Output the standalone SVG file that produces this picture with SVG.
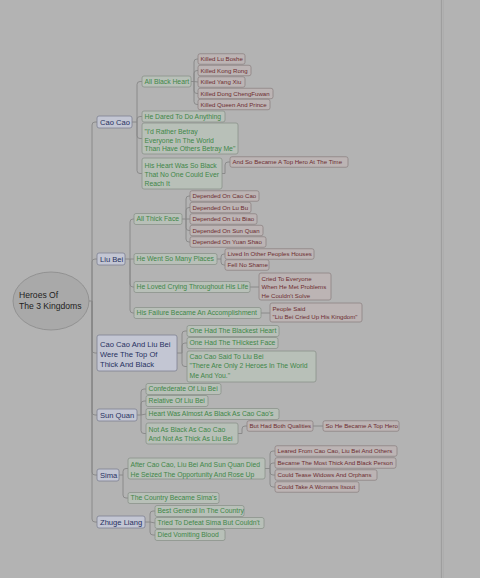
<svg xmlns="http://www.w3.org/2000/svg" width="480" height="578" viewBox="0 0 480 578">
<style>
text{font-family:"Liberation Sans",Arial,sans-serif}
.conn{fill:none;stroke:#878787;stroke-width:0.9}
.l1 rect{fill:#c3c6d3;stroke:#7d8193;stroke-width:0.8}
.l1 text{fill:#27315f;font-size:7.6px}
.l2 rect{fill:#b8c0b8;stroke:#8b938b;stroke-width:0.8}
.l2 text{fill:#3f8748;font-size:6.8px}
.l3 rect{fill:#bcb4b4;stroke:#8e8484;stroke-width:0.8}
.l3 text{fill:#6d2c30;font-size:6.1px}
</style>
<rect x="0" y="0" width="480" height="578" fill="#b3b3b3"/>
<line x1="441.5" y1="0" x2="441.5" y2="578" stroke="#9e9e9e" stroke-width="1.2"/>
<line x1="443.5" y1="0" x2="443.5" y2="578" stroke="#ababab" stroke-width="0.8"/>

<g id="connectors" class="conn">
<path d="M89 301 H92 V125 Q92 122 95 122 H97 M92 301 V262 Q92 259 95 259 H97 M92 301 V350 Q92 353 95 353 H97 M92 301 V412 Q92 415 95 415 H97 M92 301 V472 Q92 475 95 475 H97 M92 301 V519 Q92 522 95 522 H97"/>
<path d="M132 122 H137 V84.5 Q137 81.5 140 81.5 H142 M137 122 V119.5 Q137 116.5 140 116.5 H142 M137 122 V135.5 Q137 138.5 140 138.5 H142 M137 122 V170.5 Q137 173.5 140 173.5 H142"/>
<path d="M191 81.5 H194 V62 Q194 59 197 59 H198 M194 81.5 V73.5 Q194 70.5 197 70.5 H198 M194 81.5 L198 82 M194 81.5 V90.5 Q194 93.5 197 93.5 H198 M194 81.5 V101.5 Q194 104.5 197 104.5 H198"/>
<path d="M222 173.5 H225 V165 Q225 162 228 162 H230"/>
<path d="M125 259 H130 V222 Q130 219 133 219 H134 M130 259 H134 M130 259 V284 Q130 287 133 287 H134 M130 259 V310 Q130 313 133 313 H134"/>
<path d="M182 219 H186 V199 Q186 196 189 196 H190 M186 219 V210.5 Q186 207.5 189 207.5 H190 M186 219 H190 M186 219 V227.5 Q186 230.5 189 230.5 H190 M186 219 V239 Q186 242 189 242 H190"/>
<path d="M217 259 H221 V257 Q221 254 224 254 H225 M221 259 V262 Q221 265 224 265 H225"/>
<path d="M250 287 H259 M261 313 H270"/>
<path d="M177 353 H182 V334 Q182 331 185 331 H187 M182 353 V346 Q182 343 185 343 H187 M182 353 V363.5 Q182 366.5 185 366.5 H187"/>
<path d="M137 415 H141 V392 Q141 389 144 389 H146 M141 415 V404 Q141 401 144 401 H146 M141 415 L146 414 M141 415 V430.5 Q141 433.5 144 433.5 H146"/>
<path d="M238 433.5 H242 V429 Q242 426 245 426 H247 M313 426 H323"/>
<path d="M119 475 H123 V471.5 Q123 468.5 126 468.5 H128 M123 475 V495 Q123 498 126 498 H128"/>
<path d="M265 468.5 H270 V454 Q270 451 273 451 H275 M270 468.5 V466 Q270 463 273 463 H275 M270 468.5 V472 Q270 475 273 475 H275 M270 468.5 V484 Q270 487 273 487 H275"/>
<path d="M145 522 H150 V514 Q150 511 153 511 H155 M150 522 L155 523 M150 522 V532 Q150 535 153 535 H155"/>
</g>

<g id="root">
<ellipse cx="51" cy="301" rx="38" ry="29" fill="#a9a9a9" stroke="#8a8a8a" stroke-width="0.8"/>
<text x="19" y="298" font-size="8.6" fill="#1e1e1e">Heroes Of</text>
<text x="19" y="308.5" font-size="8.6" fill="#1e1e1e">The 3 Kingdoms</text>
</g>

<!-- Cao Cao -->
<g id="n-caocao" class="l1"><rect x="97" y="116" width="35" height="12" rx="2"/><text x="100" y="124.7">Cao Cao</text></g>
<g id="n-allblackheart" class="l2"><rect x="142" y="76" width="49" height="11" rx="2"/><text x="144.5" y="83.9">All Black Heart</text></g>
<g id="n-killed1" class="l3"><rect x="198" y="53.75" width="47" height="10.5" rx="2"/><text x="200.5" y="61.2">Killed Lu Boshe</text></g>
<g id="n-killed2" class="l3"><rect x="198" y="65.25" width="53" height="10.5" rx="2"/><text x="200.5" y="72.7">Killed Kong Rong</text></g>
<g id="n-killed3" class="l3"><rect x="198" y="76.75" width="47" height="10.5" rx="2"/><text x="200.5" y="84.2">Killed Yang Xiu</text></g>
<g id="n-killed4" class="l3"><rect x="198" y="88.25" width="75" height="10.5" rx="2"/><text x="200.5" y="95.7">Killed Dong ChengFuwan</text></g>
<g id="n-killed5" class="l3"><rect x="198" y="99.25" width="72" height="10.5" rx="2"/><text x="200.5" y="106.7">Killed Queen And Prince</text></g>
<g id="n-dared" class="l2"><rect x="142" y="111" width="83" height="11" rx="2"/><text x="144.5" y="118.9">He Dared To Do Anything</text></g>
<g id="n-rather" class="l2"><rect x="142" y="123" width="96" height="31" rx="2"/><text x="144.5" y="134">"I'd Rather Betray</text><text x="144.5" y="142.5">Everyone In The World</text><text x="144.5" y="151">Than Have Others Betray Me"</text></g>
<g id="n-hisheart" class="l2"><rect x="142" y="158" width="80" height="31" rx="2"/><text x="144.5" y="167.5">His Heart Was So Black</text><text x="144.5" y="176.5">That No One Could Ever</text><text x="144.5" y="185.5">Reach It</text></g>
<g id="n-andso" class="l3"><rect x="230" y="156.75" width="118" height="10.5" rx="2"/><text x="232.5" y="164.2">And So Became A Top Hero At The Time</text></g>

<!-- Liu Bei -->
<g id="n-liubei" class="l1"><rect x="97" y="253" width="28" height="12" rx="2"/><text x="100" y="261.7">Liu Bei</text></g>
<g id="n-thickface" class="l2"><rect x="134" y="213.5" width="48" height="11" rx="2"/><text x="136.5" y="221.4">All Thick Face</text></g>
<g id="n-dep1" class="l3"><rect x="190" y="190.75" width="69" height="10.5" rx="2"/><text x="192.5" y="198.2">Depended On Cao Cao</text></g>
<g id="n-dep2" class="l3"><rect x="190" y="202.25" width="61" height="10.5" rx="2"/><text x="192.5" y="209.7">Depended On Lu Bu</text></g>
<g id="n-dep3" class="l3"><rect x="190" y="213.75" width="67" height="10.5" rx="2"/><text x="192.5" y="221.2">Depended On Liu Biao</text></g>
<g id="n-dep4" class="l3"><rect x="190" y="225.25" width="73" height="10.5" rx="2"/><text x="192.5" y="232.7">Depended On Sun Quan</text></g>
<g id="n-dep5" class="l3"><rect x="190" y="236.75" width="76" height="10.5" rx="2"/><text x="192.5" y="244.2">Depended On Yuan Shao</text></g>
<g id="n-went" class="l2"><rect x="134" y="253.5" width="83" height="11" rx="2"/><text x="136.5" y="261.4">He Went So Many Places</text></g>
<g id="n-lived" class="l3"><rect x="225" y="248.75" width="89" height="10.5" rx="2"/><text x="227.5" y="256.2">Lived In Other Peoples Houses</text></g>
<g id="n-fell" class="l3"><rect x="225" y="259.75" width="44" height="10.5" rx="2"/><text x="227.5" y="267.2">Fell No Shame</text></g>
<g id="n-loved" class="l2"><rect x="134" y="281.5" width="116" height="11" rx="2"/><text x="136.5" y="289.4">He Loved Crying Throughout His Life</text></g>
<g id="n-cried" class="l3"><rect x="259" y="273" width="72" height="27" rx="2"/><text x="261.5" y="280.5">Cried To Everyone</text><text x="261.5" y="289">When He Met Problems</text><text x="261.5" y="297.5">He Couldn't Solve</text></g>
<g id="n-failure" class="l2"><rect x="134" y="307.5" width="127" height="11" rx="2"/><text x="136.5" y="315.4">His Failure Became An Accomplishment</text></g>
<g id="n-people" class="l3"><rect x="270" y="303" width="92" height="19" rx="2"/><text x="272.5" y="310.5">People Said</text><text x="272.5" y="319">"Liu Bei Cried Up His Kingdom"</text></g>

<!-- Cao Cao and Liu Bei -->
<g id="n-caoliu" class="l1"><rect x="97" y="335" width="80" height="36" rx="2"/><text x="100" y="346.7">Cao Cao And Liu Bei</text><text x="100" y="356.7">Were The Top Of</text><text x="100" y="366.7">Thick And Black</text></g>
<g id="n-blackest" class="l2"><rect x="187" y="325.5" width="92" height="11" rx="2"/><text x="189.5" y="333.4">One Had The Blackest Heart</text></g>
<g id="n-thickest" class="l2"><rect x="187" y="337.5" width="91" height="11" rx="2"/><text x="189.5" y="345.4">One Had The THickest Face</text></g>
<g id="n-said" class="l2"><rect x="187" y="351" width="129" height="31" rx="2"/><text x="189.5" y="358.5">Cao Cao Said To Liu Bei</text><text x="189.5" y="368">"There Are Only 2 Heroes In The World</text><text x="189.5" y="377.5">Me And You."</text></g>

<!-- Sun Quan -->
<g id="n-sunquan" class="l1"><rect x="97" y="409" width="40" height="12" rx="2"/><text x="100" y="417.7">Sun Quan</text></g>
<g id="n-confed" class="l2"><rect x="146" y="383.5" width="75" height="11" rx="2"/><text x="148.5" y="391.4">Confederate Of Liu Bei</text></g>
<g id="n-relative" class="l2"><rect x="146" y="395.5" width="62" height="11" rx="2"/><text x="148.5" y="403.4">Relative Of Liu Bei</text></g>
<g id="n-almost" class="l2"><rect x="146" y="408.5" width="133" height="11" rx="2"/><text x="148.5" y="416.4">Heart Was Almost As Black As Cao Cao's</text></g>
<g id="n-notas" class="l2"><rect x="146" y="423" width="92" height="21" rx="2"/><text x="148.5" y="431.5">Not As Black As Cao Cao</text><text x="148.5" y="440.5">And Not As Thick As Liu Bei</text></g>
<g id="n-both" class="l3"><rect x="247" y="420.75" width="66" height="10.5" rx="2"/><text x="249.5" y="428.2">But Had Both Qualities</text></g>
<g id="n-sohe" class="l3"><rect x="323" y="420.75" width="76" height="10.5" rx="2"/><text x="325.5" y="428.2">So He Became A Top Hero</text></g>

<!-- Sima -->
<g id="n-sima" class="l1"><rect x="97" y="469" width="22" height="12" rx="2"/><text x="100" y="477.7">Sima</text></g>
<g id="n-after" class="l2"><rect x="128" y="458" width="137" height="21" rx="2"/><text x="130.5" y="466.5">After Cao Cao, Liu Bei And Sun Quan Died</text><text x="130.5" y="476.5">He Seized The Opportunity And Rose Up</text></g>
<g id="n-leared" class="l3"><rect x="275" y="445.75" width="122" height="10.5" rx="2"/><text x="277.5" y="453.2">Leared From Cao Cao, Liu Bei And Others</text></g>
<g id="n-became" class="l3"><rect x="275" y="457.75" width="121" height="10.5" rx="2"/><text x="277.5" y="465.2">Became The Most Thick And Black Person</text></g>
<g id="n-tease" class="l3"><rect x="275" y="469.75" width="102" height="10.5" rx="2"/><text x="277.5" y="477.2">Could Tease Widows And Orphans</text></g>
<g id="n-take" class="l3"><rect x="275" y="481.75" width="84" height="10.5" rx="2"/><text x="277.5" y="489.2">Could Take A Womans Itsout</text></g>
<g id="n-country" class="l2"><rect x="128" y="492.5" width="91" height="11" rx="2"/><text x="130.5" y="500.4">The Country Became Sima's</text></g>

<!-- Zhuge Liang -->
<g id="n-zhuge" class="l1"><rect x="97" y="516" width="48" height="12" rx="2"/><text x="100" y="524.7">Zhuge Liang</text></g>
<g id="n-best" class="l2"><rect x="155" y="505.5" width="89" height="11" rx="2"/><text x="157.5" y="513.4">Best General In The Country</text></g>
<g id="n-tried" class="l2"><rect x="155" y="517.5" width="109" height="11" rx="2"/><text x="157.5" y="525.4">Tried To Defeat Sima But Couldn't</text></g>
<g id="n-died" class="l2"><rect x="155" y="529.5" width="70" height="11" rx="2"/><text x="157.5" y="537.4">Died Vomiting Blood</text></g>
</svg>
